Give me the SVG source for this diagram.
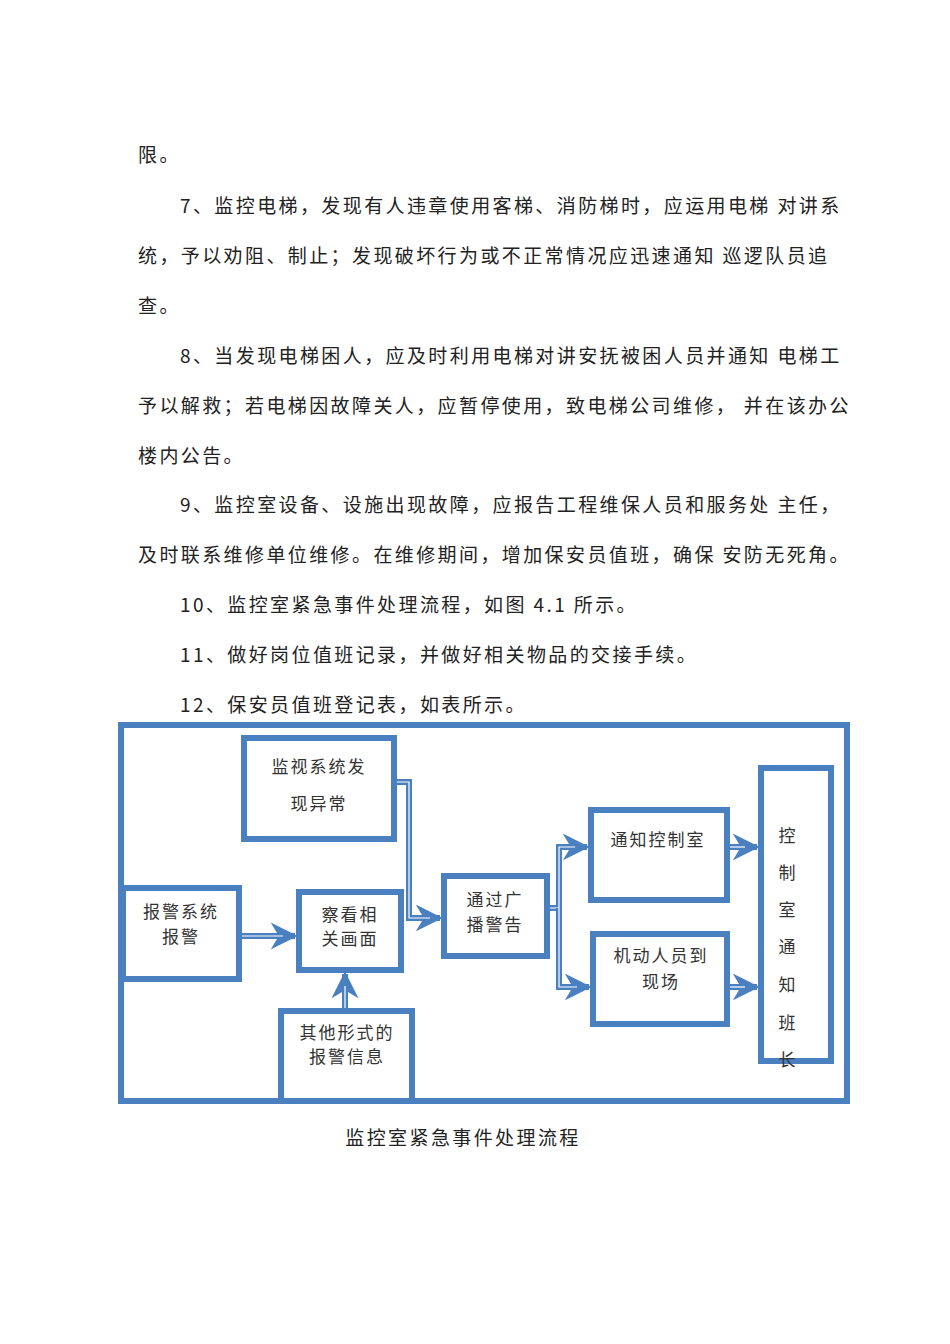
<svg xmlns="http://www.w3.org/2000/svg" width="950" height="1344" viewBox="0 0 950 1344">
<style>
.p{font-family:"Noto Sans CJK SC","Liberation Serif",serif;font-size:19px;fill:#222;letter-spacing:2.4px}
.b{fill:#fff;stroke:#4a7fc0;stroke-width:6}
.bi{fill:none;stroke:#fff;stroke-width:1.2}
.t{font-family:"Noto Sans CJK SC",sans-serif;font-size:17px;fill:#333;text-anchor:middle;letter-spacing:2px}
.c{fill:none;stroke:#4a7fc0;stroke-width:6}
.ci{fill:none;stroke:#fff;stroke-width:1.2}
</style>
<defs>
<marker id="ah" viewBox="0 0 10 10" refX="9" refY="5" markerWidth="4.5" markerHeight="4.5" markerUnits="strokeWidth" orient="auto"><path d="M0,0 L10,5 L0,10 L3,5 Z" fill="#4a7fc0"/></marker>
</defs>
<rect width="950" height="1344" fill="#fff"/>
<g id="text">
<text class="p" x="138" y="162">限。</text>
<text class="p" x="180" y="213">7、监控电梯，发现有人违章使用客梯、消防梯时，应运用电梯 对讲系</text>
<text class="p" x="138" y="263">统，予以劝阻、制止；发现破坏行为或不正常情况应迅速通知 巡逻队员追</text>
<text class="p" x="138" y="313">查。</text>
<text class="p" x="180" y="363">8、当发现电梯困人，应及时利用电梯对讲安抚被困人员并通知 电梯工</text>
<text class="p" x="138" y="413">予以解救；若电梯因故障关人，应暂停使用，致电梯公司维修， 并在该办公</text>
<text class="p" x="138" y="463">楼内公告。</text>
<text class="p" x="180" y="512">9、监控室设备、设施出现故障，应报告工程维保人员和服务处 主任，</text>
<text class="p" x="138" y="562">及时联系维修单位维修。在维修期间，增加保安员值班，确保 安防无死角。</text>
<text class="p" x="180" y="612">10、监控室紧急事件处理流程，如图 4.1 所示。</text>
<text class="p" x="180" y="662">11、做好岗位值班记录，并做好相关物品的交接手续。</text>
<text class="p" x="180" y="712">12、保安员值班登记表，如表所示。</text>
<text class="p" x="463" y="1145" text-anchor="middle">监控室紧急事件处理流程</text>
</g>
<g id="frame"><rect class="b" x="121" y="725" width="726" height="376"/><rect class="bi" x="125" y="729" width="718" height="368"/></g>
<g id="connectors">
<path class="c" d="M395,782 H409 V918 H440" marker-end="url(#ah)"/>
<path class="ci" d="M395,782 H409 V918 H430"/>
<path class="c" d="M240,936 H295" marker-end="url(#ah)"/>
<path class="ci" d="M240,936 H283"/>
<path class="c" d="M345,1010 V974" marker-end="url(#ah)"/>
<path class="ci" d="M345,1010 V986"/>
<path class="c" d="M548,908 H559 V847 H587" marker-end="url(#ah)"/>
<path class="ci" d="M548,908 H559 V847 H575"/>
<path class="c" d="M559,908 V987 H589" marker-end="url(#ah)"/>
<path class="ci" d="M559,908 V987 H577"/>
<path class="c" d="M728,847 H757" marker-end="url(#ah)"/>
<path class="ci" d="M728,847 H745"/>
<path class="c" d="M728,987 H757" marker-end="url(#ah)"/>
<path class="ci" d="M728,987 H745"/>
</g>
<g id="n1"><rect class="b" x="244" y="738" width="150" height="101"/><rect class="bi" x="248" y="742" width="142" height="93"/><text class="t" x="319" y="773">监视系统发</text><text class="t" x="319" y="810">现异常</text></g>
<g id="n2"><rect class="b" x="123" y="888" width="116" height="91"/><rect class="bi" x="127" y="892" width="108" height="83"/><text class="t" x="181" y="918">报警系统</text><text class="t" x="181" y="943">报警</text></g>
<g id="n3"><rect class="b" x="299" y="892" width="102" height="78"/><rect class="bi" x="303" y="896" width="94" height="70"/><text class="t" x="350" y="921">察看相</text><text class="t" x="350" y="945">关画面</text></g>
<g id="n4"><rect class="b" x="281" y="1011" width="131" height="90"/><rect class="bi" x="285" y="1015" width="123" height="82"/><text class="t" x="347" y="1039">其他形式的</text><text class="t" x="347" y="1063">报警信息</text></g>
<g id="n5"><rect class="b" x="444" y="876" width="103" height="80"/><rect class="bi" x="448" y="880" width="95" height="72"/><text class="t" x="495" y="906">通过广</text><text class="t" x="495" y="931">播警告</text></g>
<g id="n6"><rect class="b" x="591" y="810" width="136" height="90"/><rect class="bi" x="595" y="814" width="128" height="82"/><text class="t" x="658" y="846">通知控制室</text></g>
<g id="n7"><rect class="b" x="593" y="934" width="134" height="90"/><rect class="bi" x="597" y="938" width="126" height="82"/><text class="t" x="661" y="962">机动人员到</text><text class="t" x="661" y="988">现场</text></g>
<g id="n8"><rect class="b" x="761" y="768" width="70" height="293"/><rect class="bi" x="765" y="772" width="62" height="285"/>
<text class="t" x="788" y="842">控</text><text class="t" x="788" y="879">制</text><text class="t" x="788" y="916">室</text><text class="t" x="788" y="953">通</text><text class="t" x="788" y="991">知</text><text class="t" x="788" y="1029">班</text><text class="t" x="788" y="1066">长</text></g>
</svg>
